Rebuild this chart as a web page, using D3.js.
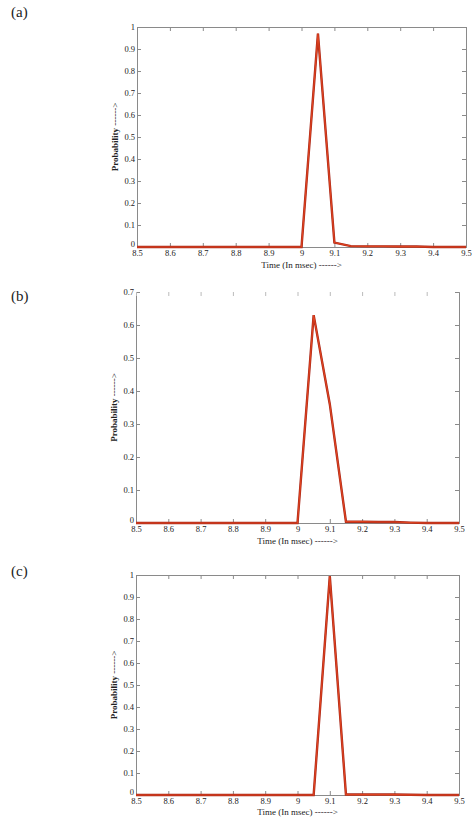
<!DOCTYPE html>
<html>
<head>
  <meta charset="utf-8">
  <script src="https://d3js.org/d3.v7.min.js"></script>
  <style>
    body { margin: 0; background: #fff; }
    text { font-family: "Liberation Serif", "DejaVu Serif", serif; fill: #222; }
  </style>
</head>
<body>
  <svg id="chart" width="472" height="818"></svg>
  <script>
    // tiempo (ms) común a las tres gráficas
    const timeValues = [8.5, 8.55, 8.6, 8.65, 8.7, 8.75, 8.8, 8.85, 8.9, 8.95, 9.0,
                        9.05, 9.1, 9.15, 9.2, 9.25, 9.3, 9.35, 9.4, 9.45, 9.5];
    const probA = [0, 0, 0, 0, 0, 0, 0, 0, 0, 0, 0,
                   0.97, 0.02, 0.004, 0.003, 0.003, 0.002, 0.002, 0, 0, 0];
    const probB = [0, 0, 0, 0, 0, 0, 0, 0, 0, 0, 0,
                   0.63, 0.36, 0.004, 0.004, 0.003, 0.003, 0.001, 0, 0, 0];
    const probC = [0, 0, 0, 0, 0, 0, 0, 0, 0, 0, 0,
                   0, 0.995, 0.002, 0.002, 0.002, 0.002, 0.001, 0, 0, 0];
    const xTicks = [8.5, 8.6, 8.7, 8.8, 8.9, 9, 9.1, 9.2, 9.3, 9.4, 9.5];
    const yTicksA = [0, 0.1, 0.2, 0.3, 0.4, 0.5, 0.6, 0.7, 0.8, 0.9, 1];
    const yTicksB = [0, 0.1, 0.2, 0.3, 0.4, 0.5, 0.6, 0.7];
    const panelLabels = ["(a)", "(b)", "(c)"];

    const svg = d3.select("#chart");

    const panels = [
      { label: panelLabels[0], values: probA, yMax: 1, yTicks: yTicksA,
        left: 137, right: 466, top: 27, bottom: 247, labelY: 17, topLine: true, xLabelGap: 21 },
      { label: panelLabels[1], values: probB, yMax: 0.7, yTicks: yTicksB,
        left: 136, right: 459, top: 292, bottom: 523, labelY: 301, topLine: false, xLabelGap: 21 },
      { label: panelLabels[2], values: probC, yMax: 1, yTicks: yTicksA,
        left: 136, right: 459, top: 575, bottom: 795, labelY: 576, topLine: true, xLabelGap: 20 }
    ];

    panels.forEach(p => {
      const x = d3.scaleLinear().domain([8.5, 9.5]).range([p.left, p.right]);
      const y = d3.scaleLinear().domain([0, p.yMax]).range([p.bottom, p.top]);

      svg.append("text")
        .attr("x", 11).attr("y", p.labelY)
        .style("font-size", "15px")
        .text(p.label);

      // ejes con marcas hacia dentro
      const xAxis = svg.append("g")
        .attr("transform", `translate(0,${p.bottom})`)
        .call(d3.axisBottom(x).tickValues(xTicks).tickSize(-4).tickPadding(3).tickFormat(d3.format("")));
      const yAxis = svg.append("g")
        .attr("transform", `translate(${p.left},0)`)
        .call(d3.axisLeft(y).tickValues(p.yTicks).tickSize(-4).tickPadding(2).tickFormat(d3.format("")));
      const xTop = svg.append("g")
        .attr("transform", `translate(0,${p.top})`)
        .call(d3.axisTop(x).tickValues(xTicks).tickSize(-4).tickFormat(""));
      const yRight = svg.append("g")
        .attr("transform", `translate(${p.right},0)`)
        .call(d3.axisRight(y).tickValues(p.yTicks).tickSize(-4).tickFormat(""));

      [xAxis, yAxis, xTop, yRight].forEach(g => {
        g.attr("font-family", "'Liberation Serif', serif");
        g.selectAll("path").attr("stroke", "#8a8a8a").attr("stroke-width", 1);
        g.selectAll("line").attr("stroke", "#8a8a8a");
        g.selectAll("text").style("font-size", "8.5px").attr("fill", "#222")
          .style("font-family", "'Liberation Serif', serif");
      });
      // el "0" del eje y queda un poco más arriba, como en el original
      yAxis.selectAll("text").filter(d => d === 0).attr("dy", "-0.05em");
      if (!p.topLine) {
        xTop.select("path").remove();
        xTop.selectAll("line").attr("stroke", "#bbb");
      }

      const line = d3.line().x((d, i) => x(timeValues[i])).y(d => y(d));
      svg.append("path")
        .datum(p.values)
        .attr("fill", "none")
        .attr("stroke", "#a8281a")
        .attr("stroke-width", 2.4)
        .attr("d", line);
      svg.append("path")
        .datum(p.values)
        .attr("fill", "none")
        .attr("stroke", "#e0431f")
        .attr("stroke-width", 1.2)
        .attr("d", line);

      svg.append("text")
        .attr("transform", `translate(${p.left - 19},${(p.top + p.bottom) / 2}) rotate(-90)`)
        .attr("text-anchor", "middle")
        .style("font-size", "9px")
        .html('<tspan font-weight="bold">Probability</tspan> ------&gt;');

      svg.append("text")
        .attr("x", (p.left + p.right) / 2)
        .attr("y", p.bottom + p.xLabelGap)
        .attr("text-anchor", "middle")
        .style("font-size", "9px")
        .text("Time (In msec) ------>");
    });
  </script>
</body>
</html>
